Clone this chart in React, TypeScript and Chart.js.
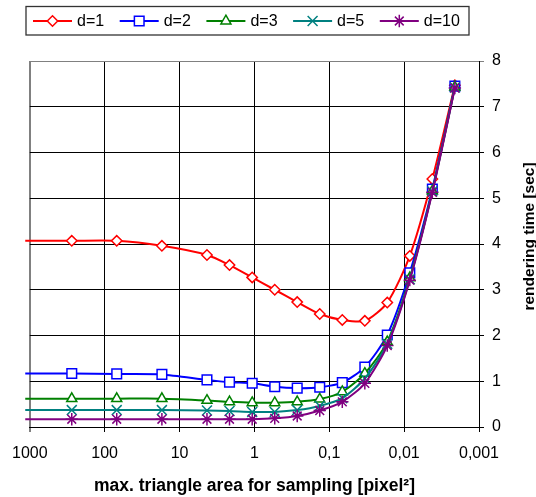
import React, { useEffect, useRef } from 'react';
import { Chart, registerables, PointElement } from 'chart.js';

Chart.register(...registerables);

// max. triangle area for sampling [pixel²] (first entry: line start beyond the left edge, no marker)
const xValues = [1150, 275, 69, 17.2, 4.3, 2.15, 1.07, 0.535, 0.268, 0.134, 0.067, 0.0335, 0.0168, 0.0084, 0.0042, 0.0021];

const seriesLabels = ['d=1', 'd=2', 'd=3', 'd=5', 'd=10'];

// rendering time [sec]
const d1 = [4.07, 4.07, 4.07, 3.96, 3.76, 3.54, 3.27, 3.0, 2.73, 2.47, 2.34, 2.32, 2.72, 3.74, 5.42, 7.47];
const d2 = [1.17, 1.17, 1.16, 1.15, 1.03, 0.98, 0.955, 0.88, 0.85, 0.87, 0.97, 1.31, 2.01, 3.37, 5.2, 7.45];
const d3 = [0.62, 0.62, 0.62, 0.62, 0.58, 0.55, 0.53, 0.53, 0.55, 0.61, 0.77, 1.17, 1.86, 3.26, 5.16, 7.43];
const d5 = [0.37, 0.37, 0.37, 0.37, 0.36, 0.35, 0.33, 0.33, 0.37, 0.46, 0.63, 1.06, 1.82, 3.23, 5.15, 7.42];
const d10 = [0.17, 0.17, 0.17, 0.17, 0.17, 0.17, 0.17, 0.19, 0.24, 0.36, 0.55, 0.955, 1.78, 3.21, 5.13, 7.41];

const seriesValues = [d1, d2, d3, d5, d10];

const xTickValues = [1000, 100, 10, 1, 0.1, 0.01, 0.001];
const yMin = 0;
const yMax = 8;
const yStep = 1;

const xTitle = 'max. triangle area for sampling [pixel²]';
const yTitle = 'rendering time [sec]';

const FONT = "'Liberation Sans', Arial, sans-serif";

const styles = [
  { color: '#FF0000', pointStyle: 'rectRot', radius: 5.2 },
  { color: '#0000FF', pointStyle: 'rect', radius: 6.8 },
  { color: '#008000', pointStyle: 'triangle', radius: 5.8 },
  { color: '#008080', pointStyle: 'crossRot', radius: 7 },
  { color: '#800080', pointStyle: 'star', radius: 6.2 },
];

const overlayPlugin = {
  id: 'overlay',
  afterDraw(chart: any) {
    const ctx = chart.ctx as CanvasRenderingContext2D;
    ctx.save();
    // legend box
    ctx.strokeStyle = '#333333';
    ctx.lineWidth = 1.3;
    ctx.strokeRect(26, 6.5, 443, 28.5);
    seriesLabels.forEach((label, i) => {
      const st = styles[i];
      const x0 = 33 + i * 86.7;
      ctx.strokeStyle = st.color;
      ctx.lineWidth = 2;
      ctx.beginPath();
      ctx.moveTo(x0, 21);
      ctx.lineTo(x0 + 39, 21);
      ctx.stroke();
      const p: any = new (PointElement as any)({
        x: x0 + 19.5,
        y: 21,
        options: {
          pointStyle: st.pointStyle,
          radius: st.radius,
          rotation: 0,
          borderWidth: 1.5,
          borderColor: st.color,
          backgroundColor: '#ffffff',
        },
      });
      p.draw(ctx);
      ctx.fillStyle = '#000000';
      ctx.font = `16px ${FONT}`;
      ctx.textBaseline = 'middle';
      ctx.textAlign = 'left';
      ctx.fillText(label, x0 + 44, 22);
    });
    // x title
    ctx.fillStyle = '#000000';
    ctx.font = `bold 17.5px ${FONT}`;
    ctx.textAlign = 'center';
    ctx.textBaseline = 'alphabetic';
    ctx.fillText(xTitle, 254.5, 491);
    // y title
    ctx.translate(534, 236.5);
    ctx.rotate(-Math.PI / 2);
    ctx.font = `bold 15.5px ${FONT}`;
    ctx.textAlign = 'center';
    ctx.textBaseline = 'alphabetic';
    ctx.fillText(yTitle, 0, 0);
    ctx.restore();
  },
};

export default function App() {
  const canvasRef = useRef<HTMLCanvasElement | null>(null);

  useEffect(() => {
    const canvas = canvasRef.current;
    if (!canvas) return;
    const datasets = seriesValues.map((vals, i) => ({
      label: seriesLabels[i],
      data: xValues.map((x, j) => ({ x, y: vals[j] })),
      borderColor: styles[i].color,
      backgroundColor: '#ffffff',
      borderWidth: 2,
      pointStyle: styles[i].pointStyle,
      pointRadius: xValues.map((_, j) => (j === 0 ? 0 : styles[i].radius)),
      pointBorderWidth: 1.5,
      pointBorderColor: styles[i].color,
      pointBackgroundColor: '#ffffff',
      tension: 0.25,
      fill: false,
      order: seriesLabels.length - i,
      clip: { left: 6, top: 10, right: 10, bottom: 10 },
    }));

    const chart = new Chart(canvas, {
      type: 'line',
      data: { datasets } as any,
      options: {
        responsive: false,
        animation: false,
        devicePixelRatio: 1,
        layout: { padding: { left: 28, top: 61, right: 0, bottom: 0 } },
        plugins: {
          legend: { display: false },
          tooltip: { enabled: false },
        },
        scales: {
          x: {
            type: 'logarithmic',
            reverse: true,
            min: 0.001,
            max: 1000,
            afterBuildTicks: (s: any) => {
              s.ticks = xTickValues.map((v) => ({ value: v }));
            },
            afterFit: (s: any) => {
              s.height = 70;
            },
            ticks: {
              autoSkip: false,
              maxRotation: 0,
              minRotation: 0,
              padding: 12,
              color: '#000000',
              font: { size: 16, family: FONT },
              callback: (v: any) => String(v).replace('.', ','),
            },
            grid: {
              color: (c: any) => (c.tick && c.tick.value === 1000 ? '#808080' : '#000000'),
              lineWidth: (c: any) => (c.tick && c.tick.value === 1000 ? 2 : 1),
              tickLength: 5,
              drawTicks: true,
            },
            border: { display: true, color: '#000000', width: 1 },
          },
          y: {
            position: 'right',
            min: yMin,
            max: yMax,
            afterFit: (s: any) => {
              s.width = 57;
            },
            ticks: {
              stepSize: yStep,
              padding: 8,
              color: '#000000',
              font: { size: 16, family: FONT },
            },
            grid: {
              color: (c: any) => (c.tick && c.tick.value === yMax ? '#808080' : '#000000'),
              lineWidth: 1,
              tickLength: 5,
              drawTicks: true,
            },
            border: { display: true, color: '#000000', width: 1 },
          },
        },
      } as any,
      plugins: [overlayPlugin],
    });
    return () => chart.destroy();
  }, []);

  return (
    <div style={{ position: 'fixed', left: 0, top: 0, width: 536, height: 497, background: '#ffffff' }}>
      <canvas ref={canvasRef} width={536} height={497} style={{ display: 'block', width: 536, height: 497 }} />
    </div>
  );
}
